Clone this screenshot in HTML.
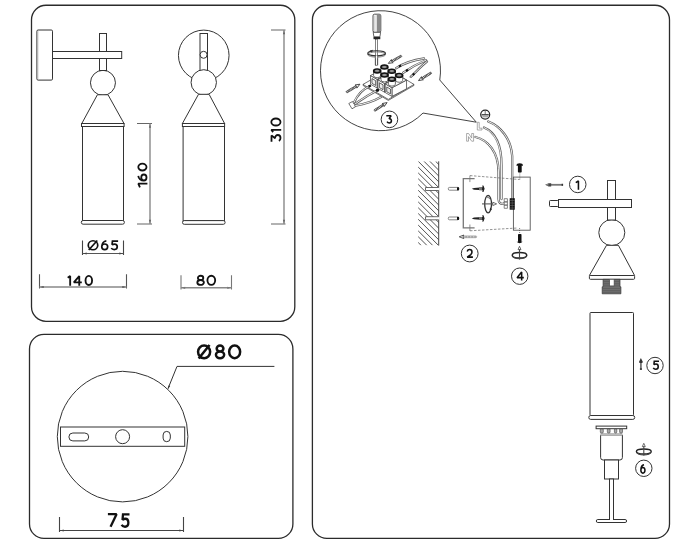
<!DOCTYPE html>
<html><head><meta charset="utf-8">
<style>
html,body{margin:0;padding:0;background:#fff;width:700px;height:544px;overflow:hidden}
svg{display:block}
text{font-family:"Liberation Sans",sans-serif;fill:#111}
.pn{fill:none;stroke:#2b2b2b;stroke-width:1.3}
.d{fill:#fff;stroke:#333;stroke-width:1}
.dn{fill:none;stroke:#333;stroke-width:1}
.dm{fill:none;stroke:#8a8a8a;stroke-width:1.1}
.t{fill:none;stroke:#333;stroke-width:0.7}
.tw{fill:#fff;stroke:#333;stroke-width:0.7}
.w2{fill:none;stroke:#5e5e5e;stroke-width:2.3;stroke-linecap:round}
.w1{fill:none;stroke:#fff;stroke-width:0.9;stroke-linecap:round}
</style></head>
<body>
<svg width="700" height="544" viewBox="0 0 700 544">
<rect class="pn" x="31.5" y="5.25" width="263.3" height="316.05" rx="14.5"/>
<rect class="pn" x="29.5" y="334.4" width="263.4" height="204" rx="14.5"/>
<rect class="pn" x="312.4" y="5.25" width="357.1" height="533.15" rx="14.5"/>
<g>
<rect class="d" x="36.9" y="30" width="15.6" height="50.1" rx="1.2"/>
<line x1="37.9" y1="31" x2="37.9" y2="79.2" stroke="#bbb" stroke-width="0.8"/>
<circle class="d" cx="102.95" cy="82.8" r="12.5"/>
<rect class="d" x="99.5" y="33.5" width="7" height="37"/>
<rect class="d" x="52.5" y="51.5" width="69.2" height="7"/>
<polygon class="d" points="97.4,94.75 108,94.75 124,123.5 81.8,123.5"/>
<rect class="d" x="81.5" y="123.5" width="42.6" height="3"/>
<rect class="d" x="82.5" y="126.5" width="41" height="94"/>
<rect class="d" x="81.3" y="220.5" width="43.1" height="3.7" rx="1.8"/>
</g>
<g>
<circle class="d" cx="203.75" cy="55.4" r="25.3"/>
<rect class="d" x="200" y="33.5" width="7.5" height="37"/>
<circle class="d" cx="203.6" cy="54.8" r="3.5"/>
<circle class="d" cx="203.75" cy="82.4" r="12.7"/>
<polygon class="d" points="198.5,94.3 209.1,94.3 224.6,123.5 182.4,123.5"/>
<rect class="d" x="182.4" y="123.5" width="42.2" height="3"/>
<rect class="d" x="183.1" y="126.5" width="41.4" height="94.1"/>
<rect class="d" x="182.5" y="220.6" width="42.6" height="3.7" rx="1.8"/>
</g>
<path d="M137 123.5H152M137 224H152" stroke="#666" stroke-width="1.1" fill="none"/>
<path d="M150 123.5V224" stroke="#888" stroke-width="1.4" fill="none"/>
<path d="M150 124.1l-1.1 3.6h2.2zM150 223.4l-1.1 -3.6h2.2z" fill="#666"/>
<path d="M271 30H285.5M271 224H285.5" stroke="#666" stroke-width="1.1" fill="none"/>
<path d="M284 30V224" stroke="#888" stroke-width="1.4" fill="none"/>
<path d="M284 30.6l-1.1 3.6h2.2zM284 223.4l-1.1 -3.6h2.2z" fill="#666"/>
<path d="M82.5 240.5V255M123.5 240.5V255" stroke="#444" stroke-width="1.1" fill="none"/>
<path d="M82.5 253.5H123.5" stroke="#555" stroke-width="1" fill="none"/>
<path d="M83.1 253.5l3.6 -1.1v2.2zM122.9 253.5l-3.6 -1.1v2.2z" fill="#444"/>
<path d="M39.5 274.2V288.6M126.5 274.2V288.6" stroke="#555" stroke-width="1.1" fill="none"/>
<path d="M39.5 287H126.5" stroke="#888" stroke-width="1.4" fill="none"/>
<path d="M40.1 287l3.6 -1.1v2.2zM125.9 287l-3.6 -1.1v2.2z" fill="#555"/>
<path d="M181 275.3V289.6M231.5 275.3V289.6" stroke="#777" stroke-width="1.1" fill="none"/>
<path d="M181 287.8H231.5" stroke="#888" stroke-width="1.4" fill="none"/>
<path d="M181.6 287.8l3.6 -1.1v2.2zM230.9 287.8l-3.6 -1.1v2.2z" fill="#777"/>
<path d="M59.5 517.1V532.1M183.5 517.1V532.1" stroke="#444" stroke-width="1.1" fill="none"/>
<path d="M59.5 530.5H183.5" stroke="#444" stroke-width="1" fill="none"/>
<path d="M60.1 530.5l3.6 -1.1v2.2zM182.9 530.5l-3.6 -1.1v2.2z" fill="#444"/>
<circle class="d" cx="122.6" cy="436.6" r="65.3"/>
<rect class="d" x="60.5" y="427" width="124.2" height="19.3"/>
<rect class="d" x="68.9" y="433" width="19.8" height="7.9" rx="3.95"/>
<circle class="d" cx="122.6" cy="436.7" r="7"/>
<rect class="d" x="163.1" y="431.4" width="7.2" height="10.3" rx="3.6"/>
<path class="dn" d="M168 388.6L177 366.4H274.4"/>
<path d="M168 389.3L170.2 386.1L168.5 385.4Z" fill="#333"/>

<path fill="none" stroke="#3a3a3a" stroke-width="0.95" d="M439.77 80L476.3 122.2L423 113.05A60 60 0 1 1 439.77 80Z"/>
<g>
<rect x="373" y="14.2" width="7.8" height="18.2" rx="1.6" fill="#fff" stroke="#222" stroke-width="0.8"/>
<rect x="376.7" y="14.8" width="3.7" height="17.2" fill="#8a8a8a"/>
<line x1="374.9" y1="15.5" x2="374.9" y2="31.5" stroke="#999" stroke-width="0.6"/>
<path d="M373.2 32.3L373.9 36.8H379.9L380.6 32.3Z" fill="#fff" stroke="#222" stroke-width="0.7"/>
<rect x="373.5" y="36.9" width="6.8" height="2.3" fill="#222"/>
<rect x="375.3" y="39.2" width="2.4" height="26" fill="#fff" stroke="#333" stroke-width="0.6"/>
<ellipse cx="376.6" cy="54.6" rx="8.9" ry="2.6" fill="none" stroke="#888" stroke-width="0.9"/>
<ellipse cx="376.6" cy="53.3" rx="8.9" ry="2.6" fill="none" stroke="#333" stroke-width="1.1"/>
<rect x="375.6" y="55.4" width="2" height="3" fill="#fff"/>
<line x1="375.3" y1="55" x2="375.3" y2="65.2" stroke="#333" stroke-width="0.6"/><line x1="377.7" y1="55" x2="377.7" y2="65.2" stroke="#333" stroke-width="0.6"/>
<path d="M369.6 50.4L373.2 49.8L371.6 52.4Z" fill="#333"/>
</g>
<polygon class="tw" points="389.00,69.50 414.00,84.40 388.30,99.40 363.00,84.40"/>
<polyline class="t" points="363.00,84.40 363.00,85.40 388.30,100.40 414.00,85.40 414.00,84.40"/>
<polygon class="tw" points="391.74,71.70 377.14,79.30 377.14,88.00 391.74,80.40"/>
<polygon class="tw" points="370.49,75.52 377.14,79.30 377.14,88.00 370.49,84.22"/>
<polygon class="tw" points="385.08,67.92 391.74,71.70 377.14,79.30 370.49,75.52"/>
<polygon fill="#eee" stroke="#222" stroke-width="0.7" points="371.96,78.56 375.67,80.66 375.67,85.46 371.96,83.36"/>
<polygon class="tw" points="399.14,75.90 384.55,83.50 384.55,92.20 399.14,84.60"/>
<polygon class="tw" points="377.88,79.72 384.55,83.50 384.55,92.20 377.88,88.42"/>
<polygon class="tw" points="392.48,72.12 399.14,75.90 384.55,83.50 377.88,79.72"/>
<polygon fill="#eee" stroke="#222" stroke-width="0.7" points="379.37,82.76 383.06,84.86 383.06,89.66 379.37,87.56"/>
<polygon class="tw" points="406.54,80.10 391.94,87.70 391.94,96.40 406.54,88.80"/>
<polygon class="tw" points="385.29,83.92 391.94,87.70 391.94,96.40 385.29,92.62"/>
<polygon class="tw" points="399.88,76.32 406.54,80.10 391.94,87.70 385.29,83.92"/>
<polygon fill="#eee" stroke="#222" stroke-width="0.7" points="386.76,86.96 390.46,89.06 390.46,93.86 386.76,91.76"/>
<path class="tw" d="M380.90 66.90V71.90A3.5 2.0 0 0 0 387.90 71.90V66.90Z"/>
<ellipse cx="384.40" cy="67.10" rx="3.5" ry="2.0" fill="#555" stroke="#111" stroke-width="1.5"/>
<ellipse cx="384.40" cy="66.90" rx="2.00" ry="1.00" fill="#999"/>
<path class="tw" d="M373.60 70.70V75.70A3.5 2.0 0 0 0 380.60 75.70V70.70Z"/>
<ellipse cx="377.10" cy="70.90" rx="3.5" ry="2.0" fill="#555" stroke="#111" stroke-width="1.5"/>
<ellipse cx="377.10" cy="70.70" rx="2.00" ry="1.00" fill="#999"/>
<path class="tw" d="M388.30 71.10V76.10A3.5 2.0 0 0 0 395.30 76.10V71.10Z"/>
<ellipse cx="391.80" cy="71.30" rx="3.5" ry="2.0" fill="#555" stroke="#111" stroke-width="1.5"/>
<ellipse cx="391.80" cy="71.10" rx="2.00" ry="1.00" fill="#999"/>
<path class="tw" d="M381.00 74.90V79.90A3.5 2.0 0 0 0 388.00 79.90V74.90Z"/>
<ellipse cx="384.50" cy="75.10" rx="3.5" ry="2.0" fill="#555" stroke="#111" stroke-width="1.5"/>
<ellipse cx="384.50" cy="74.90" rx="2.00" ry="1.00" fill="#999"/>
<path class="tw" d="M395.70 75.30V80.30A3.5 2.0 0 0 0 402.70 80.30V75.30Z"/>
<ellipse cx="399.20" cy="75.50" rx="3.5" ry="2.0" fill="#555" stroke="#111" stroke-width="1.5"/>
<ellipse cx="399.20" cy="75.30" rx="2.00" ry="1.00" fill="#999"/>
<path class="tw" d="M388.40 79.10V84.10A3.5 2.0 0 0 0 395.40 84.10V79.10Z"/>
<ellipse cx="391.90" cy="79.30" rx="3.5" ry="2.0" fill="#555" stroke="#111" stroke-width="1.5"/>
<ellipse cx="391.90" cy="79.10" rx="2.00" ry="1.00" fill="#999"/>
<g>
<path class="w2" d="M396 68.2C404 63 414 60 424 58.5"/><path class="w1" d="M396 68.2C404 63 414 60 424 58.5"/>
<path class="w2" d="M403.2 72.7C410 68 418 63.5 426 60.2"/><path class="w1" d="M403.2 72.7C410 68 418 63.5 426 60.2"/>
<path class="w2" d="M410.7 76.9C416 72 421 66 427 61.5"/><path class="w1" d="M410.7 76.9C416 72 421 66 427 61.5"/>
<line x1="399" y1="66.6" x2="401" y2="65.4" stroke="#111" stroke-width="2.2"/>
<line x1="406" y1="71" x2="408" y2="69.8" stroke="#111" stroke-width="2.2"/>
<line x1="412.8" y1="75" x2="414.3" y2="73.4" stroke="#111" stroke-width="2.2"/>
</g>
<g>
<polygon class="tw" points="348.8,103.5 352.5,101.5 355.8,106.5 352,108.8"/>
<path class="w2" d="M354 102.5C357 96 361 90 370 86"/><path class="w1" d="M354 102.5C357 96 361 90 370 86"/>
<path class="w2" d="M355 104C362 99 370 94 378 90"/><path class="w1" d="M355 104C362 99 370 94 378 90"/>
<path class="w2" d="M355.6 105.6C365 104 374 101 381 97"/><path class="w1" d="M355.6 105.6C365 104 374 101 381 97"/>
<line x1="368.5" y1="86.5" x2="370.8" y2="85.5" stroke="#111" stroke-width="2.2"/>
<circle cx="377.5" cy="90.2" r="1.6" fill="#111"/>
</g>
<g transform="translate(388.30 63.40) rotate(150.26)"><rect x="-15.32" y="-0.95" width="10.72" height="1.90" rx="0.95" fill="#fff" stroke="#333" stroke-width="0.6"/><line x1="-14.72" y1="0" x2="-4.60" y2="0" stroke="#333" stroke-width="1.90" stroke-dasharray="0.8 0.7"/><path d="M0 0L-4.60 -1.80L-3.80 0L-4.60 1.80Z" fill="#fff" stroke="#333" stroke-width="0.8" stroke-linejoin="round"/></g>
<g transform="translate(418.50 80.60) rotate(148.52)"><rect x="-15.13" y="-0.95" width="10.53" height="1.90" rx="0.95" fill="#fff" stroke="#333" stroke-width="0.6"/><line x1="-14.53" y1="0" x2="-4.60" y2="0" stroke="#333" stroke-width="1.90" stroke-dasharray="0.8 0.7"/><path d="M0 0L-4.60 -1.80L-3.80 0L-4.60 1.80Z" fill="#fff" stroke="#333" stroke-width="0.8" stroke-linejoin="round"/></g>
<g transform="translate(359.90 84.20) rotate(-30.78)"><rect x="-15.83" y="-0.95" width="11.23" height="1.90" rx="0.95" fill="#fff" stroke="#333" stroke-width="0.6"/><line x1="-15.23" y1="0" x2="-4.60" y2="0" stroke="#333" stroke-width="1.90" stroke-dasharray="0.8 0.7"/><path d="M0 0L-4.60 -1.80L-3.80 0L-4.60 1.80Z" fill="#fff" stroke="#333" stroke-width="0.8" stroke-linejoin="round"/></g>
<g transform="translate(387.10 102.60) rotate(-32.12)"><rect x="-15.23" y="-0.95" width="10.63" height="1.90" rx="0.95" fill="#fff" stroke="#333" stroke-width="0.6"/><line x1="-14.63" y1="0" x2="-4.60" y2="0" stroke="#333" stroke-width="1.90" stroke-dasharray="0.8 0.7"/><path d="M0 0L-4.60 -1.80L-3.80 0L-4.60 1.80Z" fill="#fff" stroke="#333" stroke-width="0.8" stroke-linejoin="round"/></g>
<g>
<circle cx="485.2" cy="114.6" r="4.5" fill="#fff" stroke="#222" stroke-width="1.2"/>
<path d="M485.2 110.6V114.4" stroke="#666" stroke-width="0.9" fill="none"/>
<path d="M481.6 114.8H488.8" stroke="#222" stroke-width="1.2" fill="none"/>
<path d="M482.4 116.8H488" stroke="#888" stroke-width="1" fill="none"/>
<path d="M477.3 122.3V130H482V128.2H479.2V122.3Z" fill="#fff" stroke="#888" stroke-width="0.7"/>
<path d="M466.6 141.2V133.5H468.6L471.7 138.1V133.5H473.6V141.2H471.7L468.5 136.6V141.2Z" fill="#fff" stroke="#888" stroke-width="0.7" stroke-linejoin="round"/>
</g>
<path class="w2" d="M488.3 121.5C500 126 511 138 512.2 156V205"/><path class="w1" d="M488.3 121.5C500 126 511 138 512.2 156V205"/>
<path class="w2" d="M484 127.5C495 132 501.5 145 501.5 165V199"/><path class="w1" d="M484 127.5C495 132 501.5 145 501.5 165V199"/>
<path class="w2" d="M475.5 137C488 140 498.5 152 498.5 172V199C498.5 203 501 204.5 503.5 203.5"/><path class="w1" d="M475.5 137C488 140 498.5 152 498.5 172V199C498.5 203 501 204.5 503.5 203.5"/>
<clipPath id="wc"><rect x="418.2" y="161.3" width="20.5" height="84.3"/></clipPath>
<path d="M325.40 161.3L409.40 245.3M331.20 161.3L415.20 245.3M337.00 161.3L421.00 245.3M342.80 161.3L426.80 245.3M348.60 161.3L432.60 245.3M354.40 161.3L438.40 245.3M360.20 161.3L444.20 245.3M366.00 161.3L450.00 245.3M371.80 161.3L455.80 245.3M377.60 161.3L461.60 245.3M383.40 161.3L467.40 245.3M389.20 161.3L473.20 245.3M395.00 161.3L479.00 245.3M400.80 161.3L484.80 245.3M406.60 161.3L490.60 245.3M412.40 161.3L496.40 245.3M418.20 161.3L502.20 245.3M424.00 161.3L508.00 245.3M429.80 161.3L513.80 245.3M435.60 161.3L519.60 245.3M441.40 161.3L525.40 245.3M447.20 161.3L531.20 245.3" stroke="#333" stroke-width="0.85" clip-path="url(#wc)"/>
<line x1="438.7" y1="161.3" x2="438.7" y2="245.6" stroke="#333" stroke-width="0.9"/>
<rect x="425.5" y="187.5" width="14" height="3.0" fill="#fff"/>
<path d="M438.7 187.5H425.5V190.5H438.7" fill="none" stroke="#444" stroke-width="0.8"/>
<rect x="448.3" y="187.4" width="10.6" height="2.8" rx="1.2" fill="#fff" stroke="#555" stroke-width="0.7"/>
<rect x="457" y="187.3" width="2" height="3" fill="#111"/>
<path d="M471.8 188.8L474 187.9L483 187.3V190.3L474 189.7Z" fill="#222"/>
<rect x="479" y="187.4" width="3.2" height="2.8" fill="#777"/>
<path d="M482.9 185.6Q485.6 188.8 482.9 192.0Z" fill="#333" stroke="#111" stroke-width="0.6"/>
<rect x="425.5" y="216.7" width="14" height="3.1" fill="#fff"/>
<path d="M438.7 216.7H425.5V219.8H438.7" fill="none" stroke="#444" stroke-width="0.8"/>
<rect x="448.3" y="217.0" width="10.6" height="2.8" rx="1.2" fill="#fff" stroke="#555" stroke-width="0.7"/>
<rect x="457" y="216.9" width="2" height="3" fill="#111"/>
<path d="M471.8 218.4L474 217.5L483 216.9V219.9L474 219.3Z" fill="#222"/>
<rect x="479" y="217.0" width="3.2" height="2.8" fill="#777"/>
<path d="M482.9 215.2Q485.6 218.4 482.9 221.6Z" fill="#333" stroke="#111" stroke-width="0.6"/>
<path d="M474.6 178.6H463.3V227.9H474.6" fill="none" stroke="#777" stroke-width="1.3"/>
<path d="M469.9 175.5V182.1M469.9 224.5V231" stroke="#777" stroke-width="0.8"/>
<path d="M470 175.6L519.5 179.5M470 230.8L517.5 228" stroke="#666" stroke-width="0.7" stroke-dasharray="2.5 1.5" fill="none"/>
<g transform="translate(459.20 236.80) rotate(180.00)"><rect x="-17.50" y="-0.90" width="12.90" height="1.80" rx="0.90" fill="#fff" stroke="#888" stroke-width="0.6"/><line x1="-16.90" y1="0" x2="-4.60" y2="0" stroke="#888" stroke-width="1.80" stroke-dasharray="0.8 0.7"/><path d="M0 0L-4.60 -1.80L-3.80 0L-4.60 1.80Z" fill="#fff" stroke="#333" stroke-width="0.8" stroke-linejoin="round"/></g>
<ellipse cx="488.1" cy="204.1" rx="3.4" ry="8.8" fill="none" stroke="#333" stroke-width="1.3"/>
<path d="M486.6 198C487.5 196.5 489 196.5 489.6 199" stroke="#777" stroke-width="1.2" fill="none"/>
<path d="M482 203.9H493.5" stroke="#555" stroke-width="1.1"/><path d="M496.6 203.9L492.8 202.2V205.6Z" fill="#fff" stroke="#333" stroke-width="0.7"/>
<path d="M490.8 207.5L491.9 210L489.4 209.6Z" fill="#222"/>
<rect x="513.4" y="177.1" width="16.8" height="53.1" fill="none" stroke="#555" stroke-width="0.9"/>
<path d="M504.2 198.7h3.2v3.2h-3.2zM504.2 201.9h3.2v3.2h-3.2zM504.2 205.1h3.2v3.2h-3.2z" fill="#fff" stroke="#555" stroke-width="0.7"/>
<rect x="509.7" y="198.2" width="5.1" height="11.5" fill="#111"/>
<path d="M509.7 200.5H514.8M509.7 203H514.8M509.7 205.5H514.8M509.7 208H514.8M512.2 198.2V209.7" stroke="#777" stroke-width="0.5"/>
<path d="M516.4 165.7Q516.6 163.3 519.7 163.3Q522.8 163.3 523 165.7Z" fill="#111"/><rect x="517.9" y="165" width="3.8" height="7.5" rx="0.8" fill="#111"/>
<path d="M519.8 172.5V179.5" stroke="#333" stroke-width="0.6" stroke-dasharray="1 1"/>
<path d="M516.6 241.8Q519.6 244.6 522.6 241.8Z" fill="#111"/><rect x="518" y="234" width="3.5" height="8.2" rx="0.8" fill="#111"/>
<path d="M519.6 228V234" stroke="#333" stroke-width="0.6" stroke-dasharray="1 1"/>
<ellipse cx="519.5" cy="255.2" rx="7.3" ry="2.7" fill="none" stroke="#222" stroke-width="1.4"/>
<path d="M512.6 256Q513.5 258.6 519.5 258.7Q525.5 258.6 526.4 256" fill="none" stroke="#444" stroke-width="1.2"/>
<path d="M519.5 249V259.5" stroke="#444" stroke-width="1.1"/><path d="M519.5 246.3L518 249.6H521Z" fill="#fff" stroke="#333" stroke-width="0.7"/>
<g class="dn"><circle cx="577.75" cy="184.45" r="8.25"/><circle cx="469.7" cy="253.5" r="8.4"/><circle cx="389.45" cy="119.35" r="8.3"/><circle cx="519.7" cy="276.2" r="8.2"/><circle cx="655" cy="365.5" r="8.2"/><circle cx="643.8" cy="468.3" r="8.2"/></g>
<path d="M550 184.8H562.9" stroke="#777" stroke-width="1.8"/><rect x="561.6" y="183.8" width="1.5" height="2" fill="#333"/><path d="M545.2 184.8L548.6 183.2H551.2V186.4H548.6Z" fill="#444"/><path d="M545.4 184.8L548.4 183.9V185.7Z" fill="#999"/>
<path d="M640.9 362V369.7" stroke="#777" stroke-width="1.8"/><rect x="639.9" y="368.3" width="2" height="1.5" fill="#333"/><path d="M640.9 358L642.5 361.2V363H639.3V361.2Z" fill="#333"/>
<ellipse cx="643.8" cy="451.5" rx="7.4" ry="2.5" fill="none" stroke="#222" stroke-width="1.4"/>
<path d="M636.8 452.2Q637.8 454.8 643.8 454.9Q649.8 454.8 650.8 452.2" fill="none" stroke="#444" stroke-width="1.2"/>
<path d="M643.8 446V455.5" stroke="#444" stroke-width="1.1"/><path d="M643.8 443.3L642.3 446.6H645.3Z" fill="#fff" stroke="#333" stroke-width="0.7"/>
<g>
<circle class="d" cx="611.8" cy="232.6" r="13"/>
<rect class="d" x="607.5" y="180.5" width="8" height="39.5"/>
<rect class="d" x="549.5" y="200.5" width="9" height="6" rx="0.8"/>
<rect class="d" x="558.5" y="199.5" width="73" height="8"/>
<polygon class="d" points="606.5,245.3 618.4,245.3 634.6,275.5 589.4,275.5"/>
<rect class="d" x="589.4" y="275.5" width="45.2" height="3.8" rx="1"/>
<path fill="#6e6e6e" stroke="#333" stroke-width="0.7" d="M603.1 279.3H620V286.8H620.9V293.8H602.2V286.8H603.1Z"/>
<path d="M603.5 281.5H619.6M603.5 283.7H619.6M603.5 285.9H619.6M602.6 288.5H620.5M602.6 290.6H620.5M602.6 292.6H620.5" stroke="#555" stroke-width="0.6"/>
<rect x="609.7" y="279.3" width="4.4" height="6.6" fill="#fff" stroke="#444" stroke-width="0.6"/>
<rect class="d" x="590" y="312.5" width="43.5" height="103" rx="0.8"/>
<rect class="d" x="588.8" y="415.5" width="45.9" height="3.9" rx="1.9"/>
<path class="d" d="M600.6 435H622.4V457.5Q622.4 460 619.9 460H603.1Q600.6 460 600.6 457.5Z"/>
<rect fill="#bbb" x="600.4" y="433" width="22" height="2.6"/>
<g fill="#aaa" stroke="#444" stroke-width="0.6"><rect x="600.3" y="428.6" width="3" height="4.4" rx="1"/><rect x="607.3" y="428.6" width="2.8" height="4.4" rx="1"/><rect x="614.4" y="428.6" width="2.4" height="4.4" rx="1"/><rect x="619.6" y="428.6" width="2.9" height="4.4" rx="1"/></g>
<rect class="d" x="596.1" y="426.1" width="30.6" height="2.6"/>
<rect class="d" x="604.5" y="460" width="14" height="19"/>
<rect class="d" x="609.5" y="479" width="4" height="41"/>
<rect class="d" x="596.3" y="519.5" width="30.3" height="3" rx="1.5"/>
<rect x="610" y="518" width="3" height="2" fill="#fff"/>
</g>
<path d="M88.25 245.25A4.75 4.50 0 1 0 97.75 245.25A4.75 4.50 0 1 0 88.25 245.25ZM88.72 250.02L97.28 240.48M101.75 246.83A2.95 2.82 0 1 0 107.65 246.83A2.95 2.82 0 1 0 101.75 246.83ZM101.75 246.83C101.75 243.67 103.64 241.11 106.35 240.85M118.10 241.05L112.45 241.05L112.03 244.70C113.05 244.11 113.95 244.03 114.55 244.03C116.17 244.03 117.25 245.30 117.25 246.83C117.25 248.53 116.05 249.55 114.25 249.55C113.05 249.55 111.85 249.04 111.25 248.11" fill="none" stroke="#111" stroke-width="1.7" stroke-linecap="butt" stroke-linejoin="miter" stroke-miterlimit="1.8"/>
<path d="M67.72 277.86L70.17 276.12L70.17 285.70M79.25 285.70L79.25 276.12L73.83 282.35L81.80 282.35M85.52 280.45A3.28 4.52 0 1 0 92.08 280.45A3.28 4.52 0 1 0 85.52 280.45Z" fill="none" stroke="#111" stroke-width="1.85" stroke-linecap="butt" stroke-linejoin="miter" stroke-miterlimit="1.8"/>
<path d="M197.91 277.88A2.69 2.15 0 1 0 203.29 277.88A2.69 2.15 0 1 0 197.91 277.88ZM197.33 282.45A3.27 2.42 0 1 0 203.88 282.45A3.27 2.42 0 1 0 197.33 282.45ZM207.43 280.30A3.87 4.57 0 1 0 215.18 280.30A3.87 4.57 0 1 0 207.43 280.30Z" fill="none" stroke="#111" stroke-width="1.85" stroke-linecap="butt" stroke-linejoin="miter" stroke-miterlimit="1.8"/>
<path d="M198.05 351.80A6.05 6.35 0 1 0 210.15 351.80A6.05 6.35 0 1 0 198.05 351.80ZM198.66 358.53L209.55 345.07M216.69 348.43A3.36 2.98 0 1 0 223.41 348.43A3.36 2.98 0 1 0 216.69 348.43ZM215.95 354.78A4.10 3.37 0 1 0 224.15 354.78A4.10 3.37 0 1 0 215.95 354.78ZM229.15 351.80A5.50 6.35 0 1 0 240.15 351.80A5.50 6.35 0 1 0 229.15 351.80Z" fill="none" stroke="#111" stroke-width="2.5" stroke-linecap="butt" stroke-linejoin="miter" stroke-miterlimit="1.8"/>
<path d="M107.90 514.15L116.55 514.15L110.55 526.75M129.50 514.45L122.99 514.45L122.52 519.74C123.66 518.88 124.67 518.75 125.33 518.75C127.14 518.75 128.35 520.60 128.35 522.81C128.35 525.27 127.01 526.75 125.00 526.75C123.66 526.75 122.32 526.01 121.65 524.66" fill="none" stroke="#111" stroke-width="2.3" stroke-linecap="butt" stroke-linejoin="miter" stroke-miterlimit="1.8"/>
<g transform="rotate(-90)"><path d="M-187.40 139.94L-183.60 138.30L-183.60 147.40M-180.50 143.88A3.00 2.62 0 1 0 -174.50 143.88A3.00 2.62 0 1 0 -180.50 143.88ZM-180.50 143.88C-180.50 140.92 -178.58 138.55 -175.82 138.30M-170.50 142.40A3.45 4.10 0 1 0 -163.60 142.40A3.45 4.10 0 1 0 -170.50 142.40Z" fill="none" stroke="#111" stroke-width="1.8" stroke-linecap="butt" stroke-linejoin="miter" stroke-miterlimit="1.8"/></g>
<g transform="rotate(-90)"><path d="M-141.80 271.50L-135.41 271.50L-138.25 275.10C-136.06 274.92 -135.00 276.45 -135.00 277.80C-135.00 279.42 -136.18 280.50 -137.95 280.50C-139.13 280.50 -140.31 279.96 -140.90 278.88M-132.10 273.10L-129.80 271.30L-129.80 281.20M-125.50 275.90A3.50 4.60 0 1 0 -118.50 275.90A3.50 4.60 0 1 0 -125.50 275.90Z" fill="none" stroke="#111" stroke-width="1.8" stroke-linecap="butt" stroke-linejoin="miter" stroke-miterlimit="1.8"/></g>
<path d="M575.77 182.56L578.43 180.97L578.43 189.70" fill="none" stroke="#111" stroke-width="1.55" stroke-linecap="butt" stroke-linejoin="miter" stroke-miterlimit="1.8"/>
<path d="M467.23 251.46C467.58 250.10 468.59 249.58 469.60 249.58C471.01 249.58 471.97 250.71 471.97 252.07C471.97 253.12 471.52 253.80 470.86 254.56L467.23 257.12L472.90 257.12" fill="none" stroke="#111" stroke-width="1.55" stroke-linecap="butt" stroke-linejoin="miter" stroke-miterlimit="1.8"/>
<path d="M386.30 115.68L391.12 115.68L389.03 118.62C390.64 118.47 391.43 119.72 391.43 120.82C391.43 122.14 390.56 123.02 389.25 123.02C388.38 123.02 387.51 122.58 387.07 121.70" fill="none" stroke="#111" stroke-width="1.55" stroke-linecap="butt" stroke-linejoin="miter" stroke-miterlimit="1.8"/>
<path d="M521.66 280.60L521.66 271.97L517.07 277.63L523.80 277.63" fill="none" stroke="#111" stroke-width="1.55" stroke-linecap="butt" stroke-linejoin="miter" stroke-miterlimit="1.8"/>
<path d="M659.00 361.27L654.26 361.27L653.92 364.69C654.76 364.14 655.50 364.06 656.00 364.06C657.33 364.06 658.23 365.25 658.23 366.68C658.23 368.27 657.24 369.23 655.75 369.23C654.76 369.23 653.77 368.75 653.27 367.87" fill="none" stroke="#111" stroke-width="1.55" stroke-linecap="butt" stroke-linejoin="miter" stroke-miterlimit="1.8"/>
<path d="M640.88 470.28A2.03 2.64 0 1 0 644.93 470.28A2.03 2.64 0 1 0 640.88 470.28ZM640.88 470.28C640.88 467.31 642.17 464.92 644.03 464.67" fill="none" stroke="#111" stroke-width="1.55" stroke-linecap="butt" stroke-linejoin="miter" stroke-miterlimit="1.8"/>
</svg>
</body></html>
